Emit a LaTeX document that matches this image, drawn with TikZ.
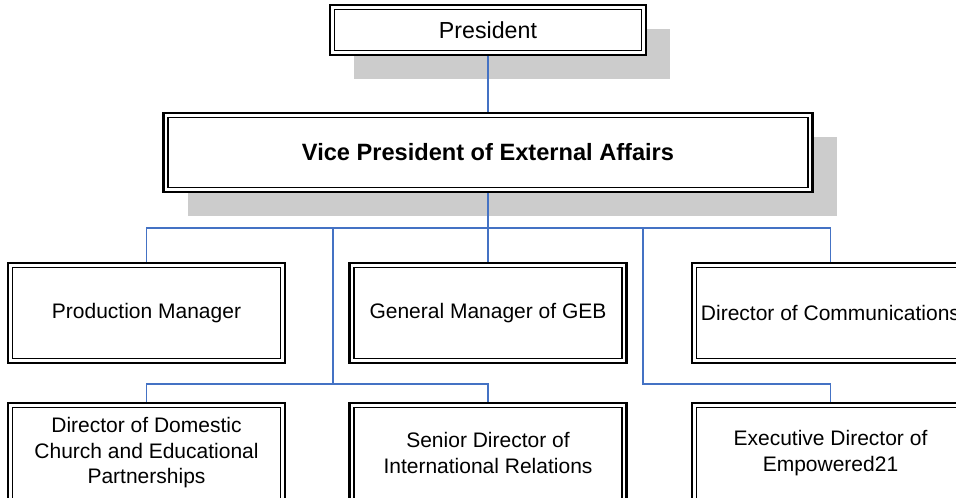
\documentclass[tikz,border=0pt]{standalone}
\usepackage{fontspec}
\setmainfont{Liberation Sans}
\usetikzlibrary{shadows}
\definecolor{linkblue}{HTML}{4472C4}
\definecolor{shadowgray}{HTML}{CCCCCC}

\begin{document}
\begin{tikzpicture}[x=1pt, y=-1pt,
    post/.style={draw, line width=2.2pt, fill=white, inner sep=2pt, align=center,
        minimum width=277pt, minimum height=100pt,
        font=\fontsize{21}{25.5}\selectfont,
        path picture={\draw[line width=1.1pt]
            ([xshift=4.5pt,yshift=-4.5pt]path picture bounding box.north west) rectangle
            ([xshift=-4.5pt,yshift=4.5pt]path picture bounding box.south east);}},
    toppost/.style={post, drop shadow={shadow xshift=24pt, shadow yshift=-24pt,
        opacity=1, fill=shadowgray}},
    link/.style={draw=linkblue, line width=1.3pt}]
    \useasboundingbox (0,0) rectangle (956,498);

    \node[toppost, minimum width=316pt, minimum height=50pt,
          font=\fontsize{23.2}{27}\selectfont] (pres) at (488,30) {President};
    \node[toppost, minimum width=649pt, minimum height=79pt,
          font=\fontsize{23.6}{27}\selectfont\bfseries] (vp) at (488,152.5) {Vice President of External Affairs};

    \node[post] (prod) at (146.5,313) {Production Manager};
    \node[post] (geb) at (488,313) {General Manager of GEB};
    \node[post] (comms) at (830.5,313) {Director of Communications};
    \node[post] (dom) at (146.5,453) {Director of Domestic\\Church and Educational\\Partnerships};
    \node[post] (sen) at (488,453) {Senior Director of\\International Relations};
    \node[post] (exec) at (830.5,453) {Executive Director of\\Empowered21};

    \coordinate (bus) at (488,228);
    \coordinate (lbus) at (333,384);
    \coordinate (rbus) at (643,384);

    \draw[link] (pres) -- (vp);
    \draw[link] (vp) -- (geb);
    \draw[link] (prod.north) |- (bus) -| (comms.north);
    \draw[link] (dom.north) |- (lbus) -| (sen.north);
    \draw[link] (lbus) -- (lbus |- bus);
    \draw[link] (exec.north) |- (rbus) -- (rbus |- bus);
\end{tikzpicture}
\end{document}
